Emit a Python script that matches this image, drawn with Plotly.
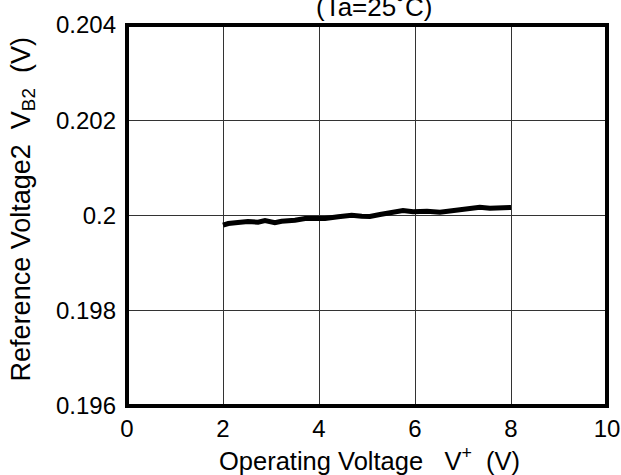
import plotly.graph_objects as go

# Data
operating_voltage = [2.0, 2.11, 2.31, 2.52, 2.73, 2.875, 3.08, 3.22, 3.5, 3.71, 3.92, 4.125,
                     4.4, 4.68, 4.89, 5.06, 5.27, 5.54, 5.75, 5.96, 6.25, 6.52, 6.79, 7.08,
                     7.35, 7.56, 7.77, 8.0]
reference_voltage2 = [0.199796, 0.199832, 0.199853, 0.199874, 0.199859, 0.199895, 0.199847,
                      0.199880, 0.199901, 0.199937, 0.199937, 0.199937, 0.199973, 0.200006,
                      0.199985, 0.199979, 0.200021, 0.200057, 0.200105, 0.200078, 0.200090,
                      0.200069, 0.200105, 0.200132, 0.200174, 0.200153, 0.200168, 0.200168]

x_ticks = [0, 2, 4, 6, 8, 10]
y_ticks = [0.196, 0.198, 0.2, 0.202, 0.204]
y_tick_text = ["0.196", "0.198", "0.2", "0.202", "0.204"]

FONT = "Liberation Sans, Arial, sans-serif"

fig = go.Figure()
fig.add_trace(go.Scatter(x=operating_voltage, y=reference_voltage2, mode="lines",
                         line=dict(color="black", width=5), showlegend=False))

fig.update_layout(
    width=621, height=475,
    margin=dict(l=127, r=14, t=25, b=69, autoexpand=False),
    paper_bgcolor="white", plot_bgcolor="white",
    font=dict(family=FONT, size=24, color="black"),
    xaxis=dict(range=[0, 10], tickvals=x_ticks, ticks="", showline=False,
               showgrid=True, gridcolor="#333333", gridwidth=1, zeroline=False,
               automargin=False, ticklabelstandoff=6, tickfont=dict(size=24)),
    yaxis=dict(range=[0.196, 0.204], tickvals=y_ticks, ticktext=y_tick_text, ticks="",
               showline=False, showgrid=True, gridcolor="#333333", gridwidth=1,
               zeroline=False, automargin=False, ticklabelstandoff=10,
               tickfont=dict(size=24)),
    shapes=[dict(type="rect", xref="paper", yref="paper", x0=0, x1=1, y0=0, y1=1,
                 line=dict(color="black", width=4), layer="above")],
    annotations=[
        dict(text="(Ta=25˚C)", xref="paper", yref="paper", x=0.515, y=1,
             xanchor="center", yanchor="middle", yshift=18, showarrow=False,
             font=dict(size=26)),
        dict(text="Operating Voltage&nbsp;&nbsp;&nbsp;V<sup>+</sup>&nbsp;&nbsp;(V)",
             xref="paper", yref="paper", x=0.505, y=0, xanchor="center",
             yanchor="middle", yshift=-53, showarrow=False, font=dict(size=25.5)),
        dict(text="Reference Voltage2&nbsp;&nbsp;V<sub>B2</sub>&nbsp;&nbsp;(V)",
             xref="paper", yref="paper", x=0, y=0.516, xanchor="center",
             yanchor="middle", xshift=-104, textangle=-90, showarrow=False,
             font=dict(size=27)),
    ],
)

fig.write_html("out.html", config={"displayModeBar": False},
               post_script="document.body.style.margin='0';document.body.style.overflow='hidden';")
